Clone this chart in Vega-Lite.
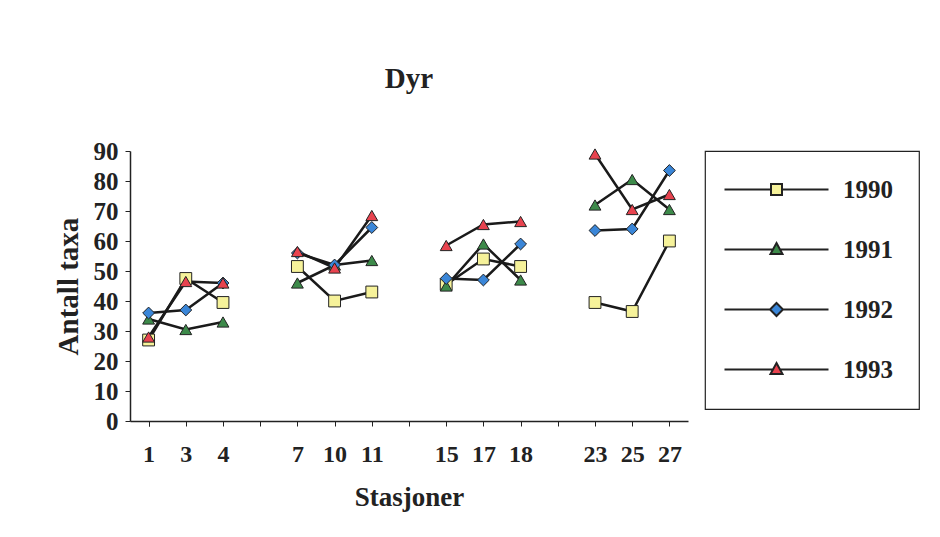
{
  "$schema": "https://vega.github.io/schema/vega-lite/v6.json",
  "width": 558,
  "height": 270,
  "autosize": {"type": "none"},
  "padding": {"left": 130, "top": 151, "right": 252, "bottom": 116},
  "background": "white",
  "config": {"view": {"stroke": null}, "font": "Liberation Serif", "legend": {"strokeWidth": 1.2}},
  "title": {"text": "Dyr", "font": "Liberation Serif", "fontSize": 29, "fontWeight": "bold", "color": "#222", "anchor": "middle", "offset": 45},
  "data": {"values": [
    {"station": "1", "stn": 1, "grp": "A", "year": "1990", "value": 27},
    {"station": "3", "stn": 3, "grp": "A", "year": "1990", "value": 47.5},
    {"station": "4", "stn": 4, "grp": "A", "year": "1990", "value": 39.5},
    {"station": "7", "stn": 7, "grp": "B", "year": "1990", "value": 51.5},
    {"station": "10", "stn": 10, "grp": "B", "year": "1990", "value": 40},
    {"station": "11", "stn": 11, "grp": "B", "year": "1990", "value": 43},
    {"station": "15", "stn": 15, "grp": "C", "year": "1990", "value": 45.5},
    {"station": "17", "stn": 17, "grp": "C", "year": "1990", "value": 54},
    {"station": "18", "stn": 18, "grp": "C", "year": "1990", "value": 51.5},
    {"station": "23", "stn": 23, "grp": "D", "year": "1990", "value": 39.5},
    {"station": "25", "stn": 25, "grp": "D", "year": "1990", "value": 36.5},
    {"station": "27", "stn": 27, "grp": "D", "year": "1990", "value": 60},
    {"station": "1", "stn": 1, "grp": "A", "year": "1991", "value": 34},
    {"station": "3", "stn": 3, "grp": "A", "year": "1991", "value": 30.5},
    {"station": "4", "stn": 4, "grp": "A", "year": "1991", "value": 33},
    {"station": "7", "stn": 7, "grp": "B", "year": "1991", "value": 46},
    {"station": "10", "stn": 10, "grp": "B", "year": "1991", "value": 52},
    {"station": "11", "stn": 11, "grp": "B", "year": "1991", "value": 53.5},
    {"station": "15", "stn": 15, "grp": "C", "year": "1991", "value": 45},
    {"station": "17", "stn": 17, "grp": "C", "year": "1991", "value": 59},
    {"station": "18", "stn": 18, "grp": "C", "year": "1991", "value": 47},
    {"station": "23", "stn": 23, "grp": "D", "year": "1991", "value": 72},
    {"station": "25", "stn": 25, "grp": "D", "year": "1991", "value": 80.5},
    {"station": "27", "stn": 27, "grp": "D", "year": "1991", "value": 70.5},
    {"station": "1", "stn": 1, "grp": "A", "year": "1992", "value": 36},
    {"station": "3", "stn": 3, "grp": "A", "year": "1992", "value": 37},
    {"station": "4", "stn": 4, "grp": "A", "year": "1992", "value": 46},
    {"station": "7", "stn": 7, "grp": "B", "year": "1992", "value": 56},
    {"station": "10", "stn": 10, "grp": "B", "year": "1992", "value": 52},
    {"station": "11", "stn": 11, "grp": "B", "year": "1992", "value": 64.5},
    {"station": "15", "stn": 15, "grp": "C", "year": "1992", "value": 47.5},
    {"station": "17", "stn": 17, "grp": "C", "year": "1992", "value": 47},
    {"station": "18", "stn": 18, "grp": "C", "year": "1992", "value": 59},
    {"station": "23", "stn": 23, "grp": "D", "year": "1992", "value": 63.5},
    {"station": "25", "stn": 25, "grp": "D", "year": "1992", "value": 64},
    {"station": "27", "stn": 27, "grp": "D", "year": "1992", "value": 83.5},
    {"station": "1", "stn": 1, "grp": "A", "year": "1993", "value": 28},
    {"station": "3", "stn": 3, "grp": "A", "year": "1993", "value": 46.5},
    {"station": "4", "stn": 4, "grp": "A", "year": "1993", "value": 46},
    {"station": "7", "stn": 7, "grp": "B", "year": "1993", "value": 56.5},
    {"station": "10", "stn": 10, "grp": "B", "year": "1993", "value": 51},
    {"station": "11", "stn": 11, "grp": "B", "year": "1993", "value": 68.5},
    {"station": "15", "stn": 15, "grp": "C", "year": "1993", "value": 58.5},
    {"station": "17", "stn": 17, "grp": "C", "year": "1993", "value": 65.5},
    {"station": "18", "stn": 18, "grp": "C", "year": "1993", "value": 66.5},
    {"station": "23", "stn": 23, "grp": "D", "year": "1993", "value": 89},
    {"station": "25", "stn": 25, "grp": "D", "year": "1993", "value": 70.5},
    {"station": "27", "stn": 27, "grp": "D", "year": "1993", "value": 75.5}
  ]},
  "encoding": {
    "x": {
      "field": "station", "type": "nominal",
      "scale": {"domain": ["1", "3", "4", "g1", "7", "10", "11", "g2", "15", "17", "18", "g3", "23", "25", "27"], "paddingInner": 0, "paddingOuter": 0},
      "axis": {
        "title": "Stasjoner", "labelAngle": 0,
        "labelExpr": "indexof(datum.label, 'g') == 0 ? '' : datum.label",
        "bandPosition": 1, "tickExtra": true,
        "domainColor": "#222", "domainWidth": 1.5, "tickColor": "#222", "tickSize": 5,
        "labelFont": "Liberation Serif", "labelFontWeight": "bold", "labelFontSize": 24, "labelColor": "#222", "labelPadding": 16,
        "titleFont": "Liberation Serif", "titleFontWeight": "bold", "titleFontSize": 27, "titleColor": "#222", "titlePadding": 18
      }
    },
    "y": {
      "field": "value", "type": "quantitative",
      "scale": {"domain": [0, 90], "nice": false},
      "axis": {
        "title": "Antall taxa", "values": [0, 10, 20, 30, 40, 50, 60, 70, 80, 90], "grid": false,
        "domainColor": "#222", "domainWidth": 1.5, "tickColor": "#222", "tickSize": 5,
        "labelFont": "Liberation Serif", "labelFontWeight": "bold", "labelFontSize": 25, "labelColor": "#222", "labelPadding": 7,
        "titleFont": "Liberation Serif", "titleFontWeight": "bold", "titleFontSize": 29, "titleColor": "#222", "titlePadding": 10
      }
    }
  },
  "layer": [
    {
      "mark": {"type": "line", "color": "#1a1a1a", "strokeWidth": 2.5},
      "encoding": {
        "detail": [{"field": "year"}, {"field": "grp"}],
        "order": {"field": "stn", "type": "quantitative"}
      }
    },
    {
      "mark": {"type": "point", "filled": true, "stroke": "#222", "strokeWidth": 1, "opacity": 1},
      "encoding": {
        "color": {"field": "year", "type": "nominal", "scale": {"domain": ["1990", "1991", "1992", "1993"], "range": ["#f6f29a", "#3d8a4a", "#3a86d8", "#e8434f"]}, "legend": null},
        "shape": {"field": "year", "type": "nominal", "scale": {"domain": ["1990", "1991", "1992", "1993"], "range": ["square", "triangle-up", "diamond", "triangle-up"]}, "legend": null},
        "size": {"value": 140}
      }
    },
    {
      "transform": [{"filter": "datum.year == 'none'"}],
      "mark": {"type": "point", "filled": true, "stroke": "#222", "strokeWidth": 2, "opacity": 1},
      "encoding": {
        "color": {"field": "year", "type": "nominal", "scale": {"domain": ["1990", "1991", "1992", "1993"], "range": ["#f6f29a", "#3d8a4a", "#3a86d8", "#e8434f"]},
          "legend": {"title": null, "orient": "right", "offset": 17, "padding": 26, "strokeColor": "#222",
            "symbolSize": 100, "symbolOffset": 33, "labelOffset": 54, "rowPadding": 34,
            "labelFont": "Liberation Serif", "labelFontWeight": "bold", "labelFontSize": 25, "labelColor": "#222",
            "symbolStrokeColor": "#222", "symbolStrokeWidth": 2}},
        "shape": {"field": "year", "type": "nominal", "scale": {"domain": ["1990", "1991", "1992", "1993"], "range": [
          "M-10.4,0H-1.1M1.1,0H10.4M-1.1,-1.1H1.1V1.1H-1.1Z",
          "M-10.4,0H-0.7M0.7,0H10.4M0,-1.3L1.2,0.9H-1.2Z",
          "M-10.4,0H-1.3M1.3,0H10.4M0,-1.3L1.3,0L0,1.3L-1.3,0Z",
          "M-10.4,0H-0.7M0.7,0H10.4M0,-1.3L1.2,0.9H-1.2Z"
        ]},
          "legend": {"title": null, "orient": "right", "offset": 17, "padding": 26, "strokeColor": "#222",
            "symbolSize": 100, "symbolOffset": 33, "labelOffset": 54, "rowPadding": 34,
            "labelFont": "Liberation Serif", "labelFontWeight": "bold", "labelFontSize": 25, "labelColor": "#222",
            "symbolStrokeColor": "#222", "symbolStrokeWidth": 2}}
      }
    }
  ],
  "resolve": {"scale": {"color": "independent", "shape": "independent"}}
}
